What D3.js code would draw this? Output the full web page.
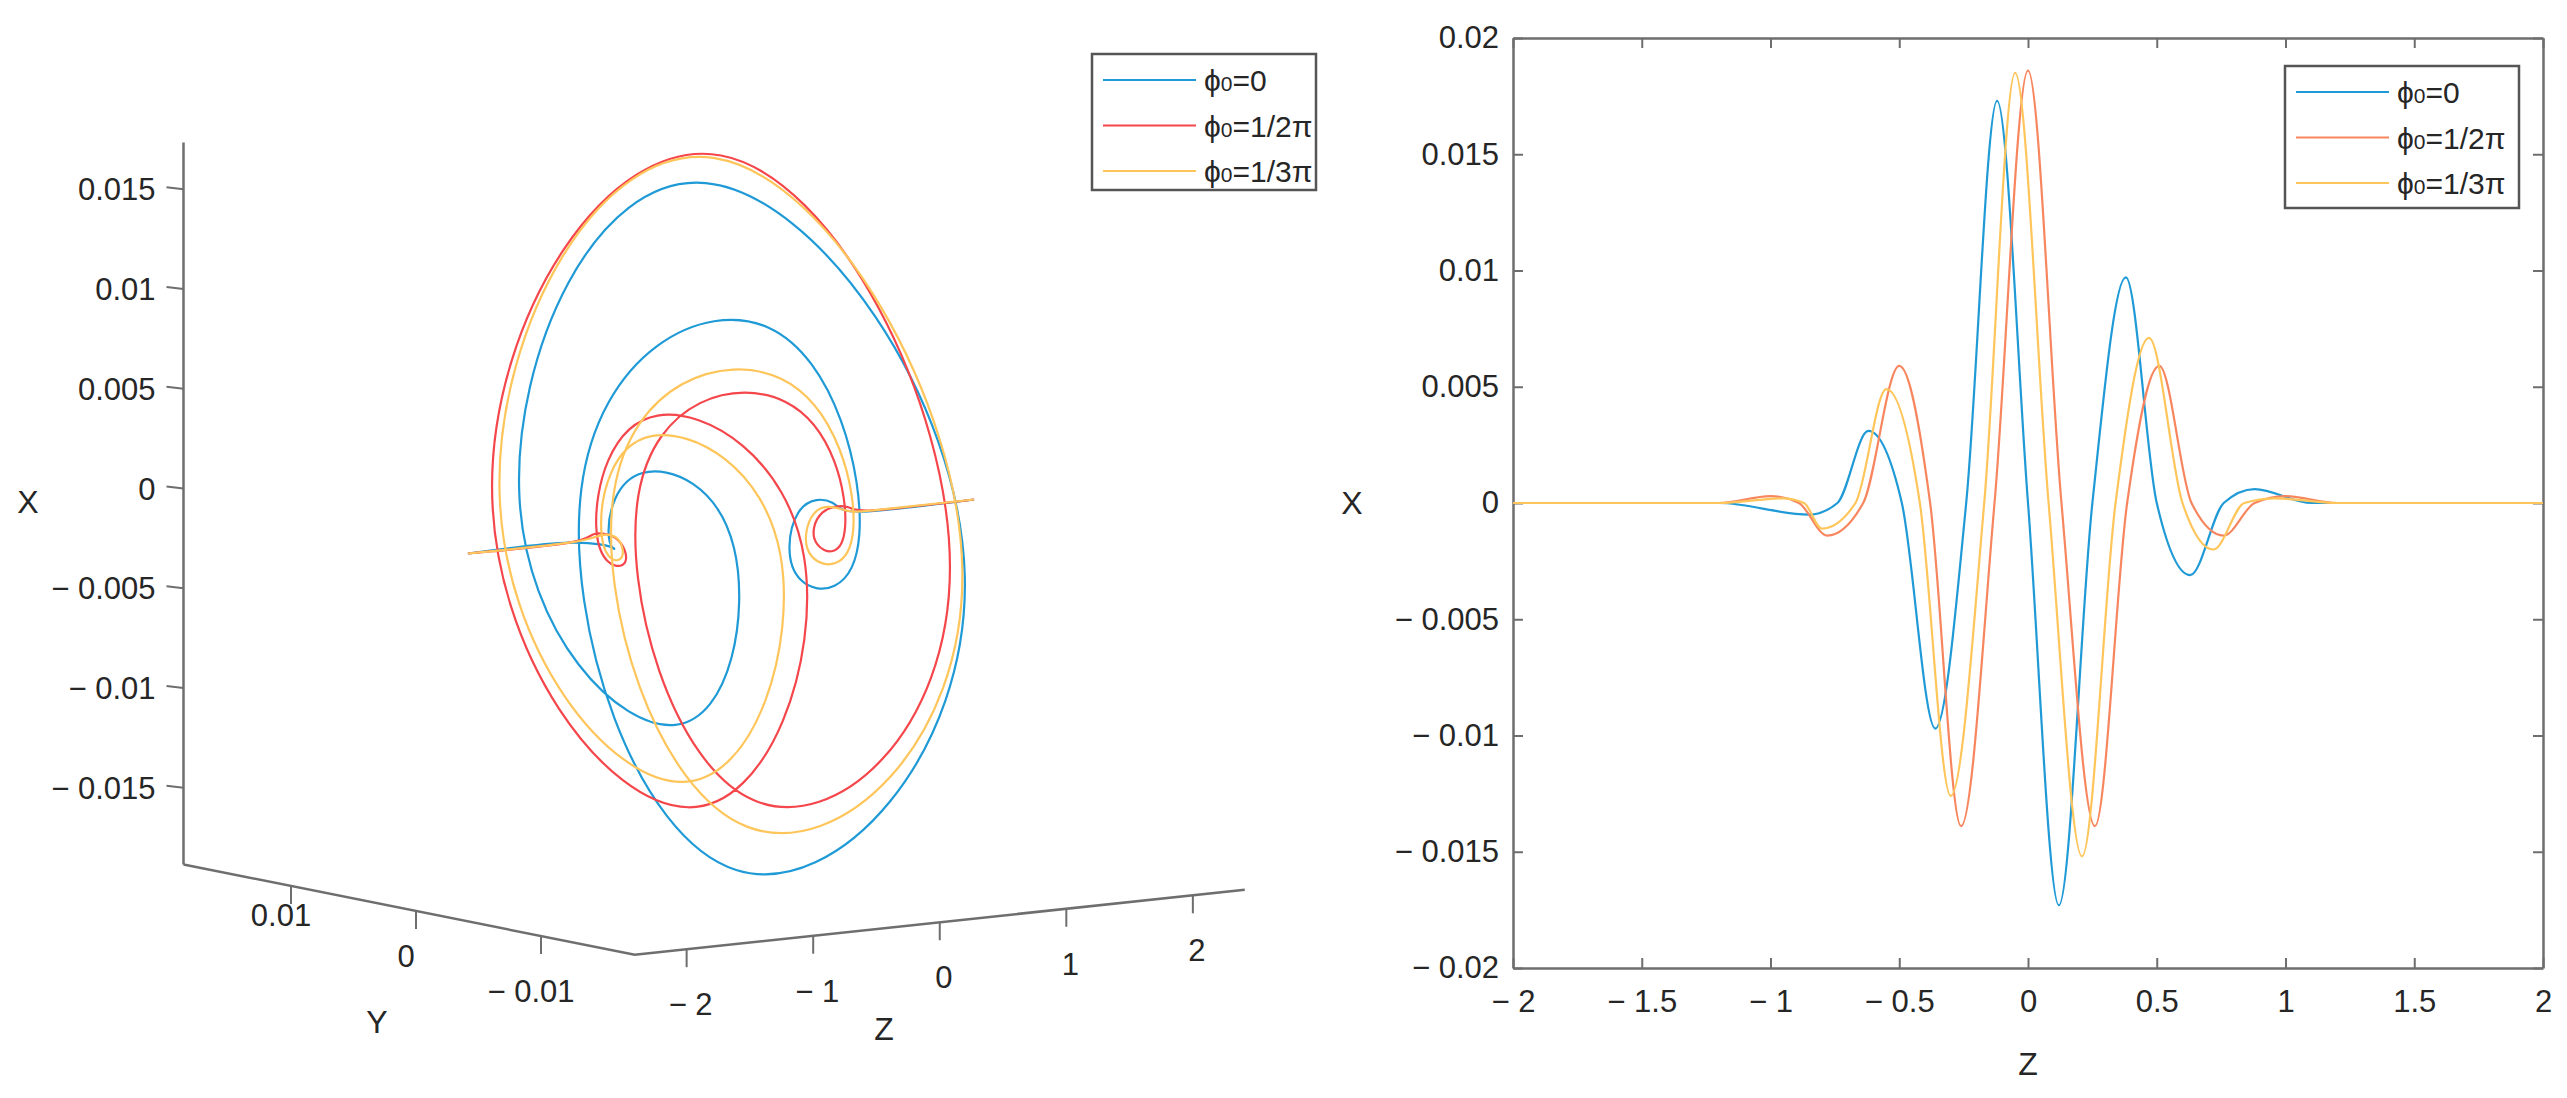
<!DOCTYPE html>
<html>
<head>
<meta charset="utf-8">
<script src="https://cdn.jsdelivr.net/npm/d3@7"></script>
<style>
  body { margin: 0; background: #fff; }
  svg text { font-family: "Liberation Sans", Arial, sans-serif; fill: #262626; }
</style>
</head>
<body>
<svg id="chart" width="2567" height="1098"></svg>
<script>
// ---- data ----
var seriesNames = ['0', '1/2π', '1/3π'];

// phi0 = 0
var zBlue = [-2, -1.2, -0.85, -0.74, -0.62, -0.49, -0.36, -0.24, -0.12, 0, 0.12, 0.25, 0.38, 0.5, 0.63, 0.76, 0.88, 1.1, 2];
var xBlue = [0, 0, -0.0005, 0, 0.0031, 0, -0.0097, 0, 0.0173, 0, -0.0173, 0, 0.0097, 0, -0.0031, 0, 0.0006, 0, 0];
var yBlue = [0, 0, 0, 0.0015, 0, -0.006, 0, 0.0137, 0, -0.0195, 0, 0.0137, 0, -0.006, 0, 0.0015, 0, 0, 0];

// phi0 = 1/2 pi
var zRed = [-2, -1.2, -1.0, -0.89, -0.78, -0.64, -0.5, -0.38, -0.26, -0.13, 0, 0.13, 0.26, 0.385, 0.51, 0.635, 0.76, 0.88, 1.0, 1.2, 2];
var xRed = [0, 0, 0.0003, 0, -0.0014, 0, 0.0059, 0, -0.0139, 0, 0.0186, 0, -0.0139, 0, 0.0059, 0, -0.0014, 0, 0.0003, 0, 0];
var yRed = [0, 0, 0, -0.0008, 0, 0.0035, 0, -0.0105, 0, 0.017, 0, -0.017, 0, 0.0105, 0, -0.0035, 0, 0.0008, 0, 0, 0];

// phi0 = 1/3 pi
var zYel = [-2, -1.2, -0.95, -0.87, -0.8, -0.67, -0.55, -0.42, -0.3, -0.17, -0.05, 0.08, 0.21, 0.34, 0.47, 0.6, 0.72, 0.84, 0.96, 1.2, 2];
var xYel = [0, 0, 0.0002, 0, -0.0011, 0, 0.0049, 0, -0.0126, 0, 0.0185, 0, -0.0152, 0, 0.0071, 0, -0.0020, 0, 0.0002, 0, 0];
var yYel = [0, 0, 0, -0.0006, 0, 0.0028, 0, -0.009, 0, 0.016, 0, -0.0185, 0, 0.012, 0, -0.0045, 0, 0.001, 0, 0, 0];

var xTicks = [-0.015, -0.01, -0.005, 0, 0.005, 0.01, 0.015];
var xTicksRight = [-0.02, -0.015, -0.01, -0.005, 0, 0.005, 0.01, 0.015, 0.02];
var yTicks3d = [-0.01, 0, 0.01];
var zTicks3d = [-2, -1, 0, 1, 2];
var zTicksRight = [-2, -1.5, -1, -0.5, 0, 0.5, 1, 1.5, 2];

var colorLeft = ['#1f9ad6', '#f4464b', '#fec55a'];
var colorRight = ['#1f9ad6', '#f7865f', '#fec55a'];
var axisColor = '#6e6e6e';

function fmt(v) {
  if (v === 0) return '0';
  var s = d3.format('')(Math.abs(v));
  return v < 0 ? '\u2212 ' + s : s;
}

function series(z, x, y) {
  return z.map(function(d, i) { return { z: d, x: x[i], y: y ? y[i] : 0 }; });
}

var data = [
  series(zBlue, xBlue, yBlue),
  series(zRed, xRed, yRed),
  series(zYel, xYel, yYel)
];

var svg = d3.select('#chart');

// ================= left panel (3d view) =================
var zMin = -2.41, zMax = 2.41, yMin = -0.0175, yMax = 0.0186, xBot = -0.01885, xTop = 0.01735;
var zx = d3.scaleLinear().domain([zMin, 0]).range([0, 305]);
var zy = d3.scaleLinear().domain([zMin, 0]).range([0, -32.5]);
var yx = d3.scaleLinear().domain([0, 0.01]).range([0, -125]);
var yy = d3.scaleLinear().domain([0, 0.01]).range([0, -25]);
var xv = d3.scaleLinear().domain([xBot, 0]).range([0, -376]);
var ox = 416, oy = 911;

function proj(X, Y, Z) {
  return [ox + yx(Y) + zx(Z), oy + yy(Y) + zy(Z) + xv(X)];
}

var left = svg.append('g');
var axG = left.append('g').attr('stroke', axisColor).attr('stroke-width', 2.5).attr('fill', 'none');
var line3 = d3.line().curve(d3.curveNatural);

axG.append('path').attr('d', d3.line()([proj(xTop, yMax, zMin), proj(xBot, yMax, zMin)]));
axG.append('path').attr('d', d3.line()([proj(xBot, yMax, zMin), proj(xBot, yMin, zMin), proj(xBot, yMin, zMax)]));

// X ticks (vertical axis)
xTicks.forEach(function(t) {
  var p = proj(t, yMax, zMin);
  axG.append('line').attr('x1', p[0] - 17).attr('y1', p[1] - 2).attr('x2', p[0]).attr('y2', p[1]).attr('stroke-width', 2);
  left.append('text').attr('x', p[0] - 28).attr('y', p[1] + 11).attr('text-anchor', 'end')
    .attr('font-size', 31).text(fmt(t));
});
// Y ticks
yTicks3d.forEach(function(t) {
  var p = proj(xBot, t, zMin);
  axG.append('line').attr('x1', p[0]).attr('y1', p[1]).attr('x2', p[0]).attr('y2', p[1] + 18).attr('stroke-width', 2);
  left.append('text').attr('x', p[0] - 10).attr('y', p[1] + 40 + (t === 0 ? 16 : 0) + (t < 0 ? 26 : 0)).attr('text-anchor', 'middle')
    .attr('font-size', 31).text(fmt(t));
});
// Z ticks
zTicks3d.forEach(function(t) {
  var p = proj(xBot, yMin, t);
  axG.append('line').attr('x1', p[0]).attr('y1', p[1]).attr('x2', p[0]).attr('y2', p[1] + 18).attr('stroke-width', 2);
  left.append('text').attr('x', p[0] + 4).attr('y', p[1] + 66).attr('text-anchor', 'middle')
    .attr('font-size', 31).text(fmt(t));
});

left.append('text').attr('x', 28).attr('y', 513).attr('text-anchor', 'middle').attr('font-size', 32).text('X');
left.append('text').attr('x', 377).attr('y', 1033).attr('text-anchor', 'middle').attr('font-size', 32).text('Y');
left.append('text').attr('x', 884).attr('y', 1040).attr('text-anchor', 'middle').attr('font-size', 32).text('Z');

// the trajectory sits slightly lower in the original view than the axis box suggests
var curveShift = 24;
left.append('g').attr('transform', 'translate(0,' + curveShift + ')')
  .selectAll('path').data(data).enter().append('path')
  .attr('fill', 'none')
  .attr('stroke', function(d, i) { return colorLeft[i]; })
  .attr('stroke-width', 2.2)
  .attr('d', function(d) { return line3(d.map(function(p) { return proj(p.x, p.y, p.z); })); });

// ================= right panel =================
var R = { left: 1513, right: 2543, top: 38, bottom: 968 };
var xs = d3.scaleLinear().domain([-2, 2]).range([R.left, R.right]);
var ys = d3.scaleLinear().domain([-0.02, 0.02]).range([R.bottom, R.top]);

var right = svg.append('g');
function styleAxis(g) {
  g.selectAll('path.domain').attr('stroke', axisColor).attr('stroke-width', 2.5);
  g.selectAll('.tick line').attr('stroke', axisColor).attr('stroke-width', 2);
  g.selectAll('.tick text').attr('font-size', 31).attr('fill', '#262626')
    .attr('font-family', '"Liberation Sans", Arial, sans-serif');
}
right.append('g').attr('transform', 'translate(0,' + R.bottom + ')')
  .call(d3.axisBottom(xs).tickValues(zTicksRight).tickFormat(fmt).tickSizeInner(-10).tickSizeOuter(0).tickPadding(22))
  .call(styleAxis);
right.append('g').attr('transform', 'translate(' + R.left + ',0)')
  .call(d3.axisLeft(ys).tickValues(xTicksRight).tickFormat(fmt).tickSizeInner(-10).tickSizeOuter(0).tickPadding(14))
  .call(styleAxis);
right.append('g').attr('transform', 'translate(0,' + R.top + ')')
  .call(d3.axisTop(xs).tickValues(zTicksRight).tickFormat('').tickSizeInner(-10).tickSizeOuter(0))
  .call(styleAxis);
right.append('g').attr('transform', 'translate(' + R.right + ',0)')
  .call(d3.axisRight(ys).tickValues(xTicksRight).tickFormat('').tickSizeInner(-10).tickSizeOuter(0))
  .call(styleAxis);

right.append('text').attr('x', 1352).attr('y', 514).attr('text-anchor', 'middle').attr('font-size', 32).text('X');
right.append('text').attr('x', 2028).attr('y', 1075).attr('text-anchor', 'middle').attr('font-size', 32).text('Z');

var line2 = d3.line().x(function(d) { return xs(d.z); }).y(function(d) { return ys(d.x); }).curve(d3.curveMonotoneX);
right.append('g').selectAll('path').data(data).enter().append('path')
  .attr('fill', 'none')
  .attr('stroke', function(d, i) { return colorRight[i]; })
  .attr('stroke-width', 2.2)
  .attr('d', line2);

// ================= legends =================
function legend(x0, y0, w, h, colors) {
  var g = svg.append('g').attr('transform', 'translate(' + x0 + ',' + y0 + ')');
  g.append('rect').attr('width', w).attr('height', h).attr('fill', '#fff')
    .attr('stroke', '#555').attr('stroke-width', 2.5);
  seriesNames.forEach(function(n, i) {
    var cy = 26 + i * 45.5;
    g.append('line').attr('x1', 11).attr('x2', 104).attr('y1', cy).attr('y2', cy)
      .attr('stroke', colors[i]).attr('stroke-width', 2.2);
    var t = g.append('text').attr('x', 112).attr('y', cy + 11).attr('font-size', 30);
    t.append('tspan').text('\u03d5');
    t.append('tspan').attr('font-size', 21).text('0');
    t.append('tspan').text('=' + n);
  });
}
legend(1092, 54, 224, 136, colorLeft);
legend(2285, 66, 234, 142, colorRight);
</script>
</body>
</html>
